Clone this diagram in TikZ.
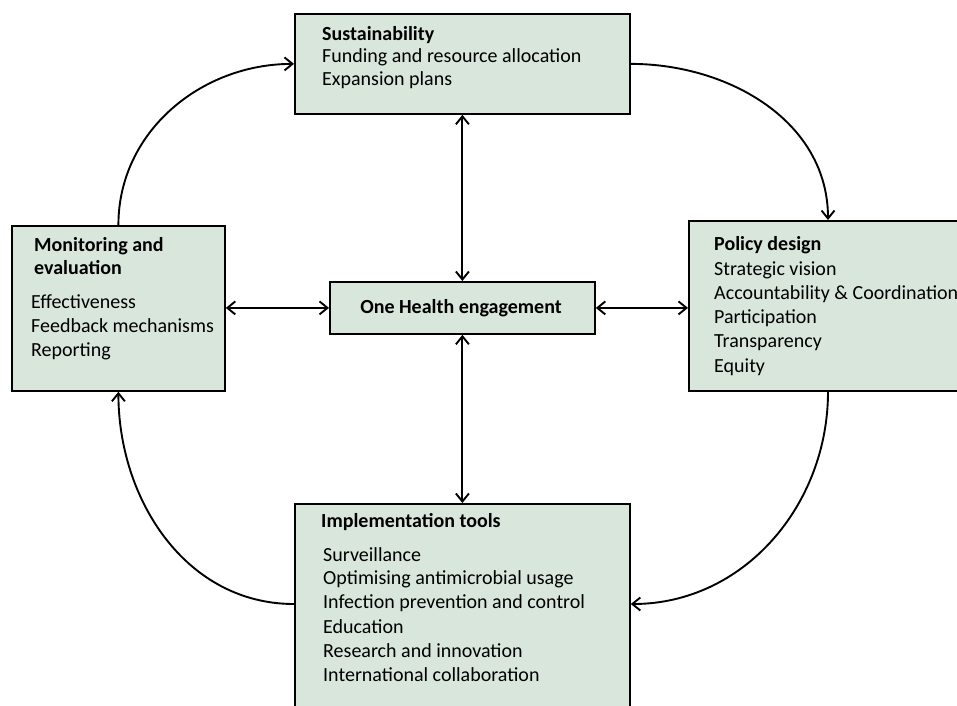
\documentclass[tikz,border=0pt]{standalone}
\usepackage{fontspec}
\setmainfont{Carlito}
\usetikzlibrary{arrows.meta,calc}
\definecolor{boxfill}{RGB}{217,230,220}
\begin{document}
\begin{tikzpicture}[x=1pt,y=-1pt,
  box/.style={draw=black,line width=1.8pt,fill=boxfill,rectangle,inner sep=0pt,anchor=north west},
  txt/.style={anchor=base west,inner sep=0pt,font=\fontsize{20}{24}\selectfont},
  hd/.style={txt,font=\fontsize{20}{24}\selectfont\bfseries},
  conn/.style={line width=1.9pt,-{Straight Barb[length=8pt,width=13pt]}},
  biconn/.style={line width=1.9pt,{Straight Barb[length=8pt,width=13pt]}-{Straight Barb[length=8pt,width=13pt]}}]
\clip (0,0) rectangle (957,705);
\fill[white] (0,0) rectangle (957,705);
% boxes
\node[box,minimum width=335pt,minimum height=100pt] (sus) at (294,13) {};
\node[box,minimum width=280pt,minimum height=170pt] (pol) at (688,220) {};
\node[box,minimum width=213pt,minimum height=165pt] (mon) at (11,225) {};
\node[box,minimum width=265pt,minimum height=52pt] (oh) at (329,281) {};
\node[box,minimum width=335pt,minimum height=230pt] (imp) at (294,503) {};
% texts
\node[hd] (t1) at (322,40) {Sustainability};
\node[txt] (t2) at (322,62) {Funding and resource allocation};
\node[txt] (t3) at (322,85) {Expansion plans};
\node[hd] (p1) at (714,250) {Policy design};
\node[txt] (p2) at (714,275) {Strategic vision};
\node[txt] (p3) at (714,299) {Accountability \& Coordination};
\node[txt] (p4) at (714,323) {Participation};
\node[txt] (p5) at (714,347) {Transparency};
\node[txt] (p6) at (714,372) {Equity};
\node[hd] (m1) at (34,251) {Monitoring and};
\node[hd] (m2) at (34,274) {evaluation};
\node[txt] (m3) at (31,308) {Effectiveness};
\node[txt] (m4) at (31,332) {Feedback mechanisms};
\node[txt] (m5) at (31,356) {Reporting};
\node[hd,anchor=base] (o1) at (461,313) {One Health engagement};
\node[hd] (i1) at (321,527) {Implementation tools};
\node[txt] (i2) at (323,561) {Surveillance};
\node[txt] (i3) at (323,584) {Optimising antimicrobial usage};
\node[txt] (i4) at (323,608) {Infection prevention and control};
\node[txt] (i5) at (323,633) {Education};
\node[txt] (i6) at (323,657) {Research and innovation};
\node[txt] (i7) at (323,681) {International collaboration};
% anchor points
\coordinate (polTop) at ($(pol.north west)+(140,0)$);
\coordinate (polBot) at ($(pol.south west)+(140,0)$);
\coordinate (impR) at ($(imp.north east)+(0,101)$);
\coordinate (impL) at ($(imp.north west)+(0,101)$);
% cycle arrows
\draw[conn] (mon.north) to[out=90,in=180,looseness=1] (sus.west);
\draw[conn] (sus.east) to[out=0,in=90,looseness=1] (polTop);
\draw[conn] (polBot) to[out=-90,in=0,looseness=1] (impR);
\draw[conn] (impL) to[out=180,in=-90,looseness=1] (mon.south);
% central arrows
\draw[biconn] (sus.south) -- (oh.north);
\draw[biconn] (oh.south) -- (imp.north);
\draw[biconn] (oh.west) -- (oh.west -| mon.east);
\draw[biconn] (oh.east) -- (oh.east -| pol.west);
\end{tikzpicture}
\end{document}
